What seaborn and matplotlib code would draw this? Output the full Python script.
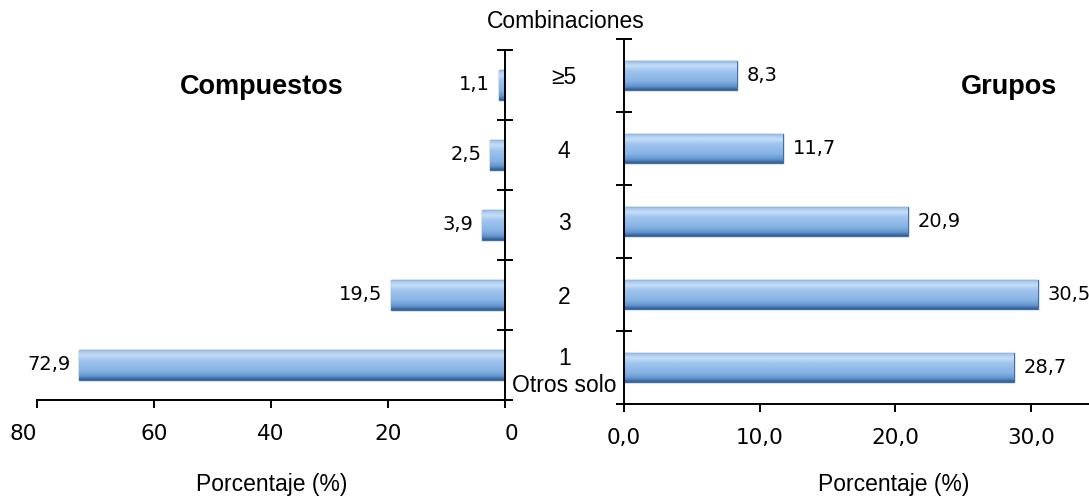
import numpy as np
import pandas as pd
import matplotlib
matplotlib.use("Agg")
import matplotlib.pyplot as plt
import seaborn as sns
from matplotlib.colors import LinearSegmentedColormap
from matplotlib.ticker import FuncFormatter

# ---------------- data ----------------
categorias = ["≥5", "4", "3", "2", "1\nOtros solo"]
compuestos = [1.1, 2.5, 3.9, 19.5, 72.9]
grupos = [8.3, 11.7, 20.9, 30.5, 28.7]
ticks_izq = [0, 20, 40, 60, 80]
ticks_der = [0, 10, 20, 30]
titulo_izq = "Compuestos"
titulo_der = "Grupos"
titulo_centro = "Combinaciones"
etiqueta_x = "Porcentaje (%)"

sns.set_style("white")
plt.rcParams["font.family"] = ["Liberation Sans", "DejaVu Sans"]
for k in ("text.color", "axes.labelcolor", "xtick.color", "ytick.color", "axes.edgecolor"):
    plt.rcParams[k] = "black"
NUM_FONT = ["DejaVu Sans"]

W, H = 1089, 497
fig = plt.figure(figsize=(W / 100, H / 100), dpi=100)


def px_axes(x0, y0, x1, y1):
    """axes rect from pixel box (top-left origin)"""
    return [x0 / W, (H - y1) / H, (x1 - x0) / W, (y1 - y0) / H]


ax_l = fig.add_axes(px_axes(37, 50, 505, 400))
ax_r = fig.add_axes(px_axes(624, 39, 1099, 404))

df_l = pd.DataFrame({"cat": categorias, "valor": compuestos})
df_r = pd.DataFrame({"cat": categorias, "valor": grupos})

base = "#8DB6E6"
sns.barplot(data=df_l, x="valor", y="cat", order=categorias, orient="h", ax=ax_l,
            color=base, saturation=1, width=0.44, edgecolor="#3F6FA8", linewidth=1.0)
sns.barplot(data=df_r, x="valor", y="cat", order=categorias, orient="h", ax=ax_r,
            color=base, saturation=1, width=0.41, edgecolor="#3F6FA8", linewidth=1.0)

# bevel-like vertical gradient on each bar
cmap = LinearSegmentedColormap.from_list(
    "bevel", [(0, "#7AA1D0"), (0.08, "#A8CAEE"), (0.2, "#C6DEF7"), (0.36, "#A0C5EE"),
              (0.7, "#86B2E4"), (0.87, "#6596CF"), (1, "#2D5A8F")])
grad = np.linspace(0, 1, 256).reshape(-1, 1)
for ax in (ax_l, ax_r):
    for p in list(ax.patches):
        x0, y0 = p.get_x(), p.get_y()
        w, h = p.get_width(), p.get_height()
        im = ax.imshow(grad, cmap=cmap, aspect="auto", origin="upper",
                       extent=(x0, x0 + w, y0 + h, y0), zorder=p.get_zorder() + 0.1,
                       interpolation="bicubic")
        im.set_clip_path(p)

# ---------------- axes limits ----------------
ax_l.set_xlim(80, 0)
ax_l.set_ylim(4.5, -0.5)
ax_r.set_xlim(0, 35)
ax_r.set_ylim(4.5, -0.5)

bounds = np.arange(-0.5, 5, 1)

# left panel
for s in ("left", "top"):
    ax_l.spines[s].set_visible(False)
for s in ("right", "bottom"):
    ax_l.spines[s].set_color("black")
    ax_l.spines[s].set_linewidth(1.4)
ax_l.yaxis.tick_right()
ax_l.set_yticks(range(len(categorias)))
ax_l.set_yticklabels([])
ax_l.set_yticks(bounds, minor=True)
ax_l.tick_params(axis="y", which="major", length=0)
ax_l.tick_params(axis="y", which="minor", direction="inout", length=11, width=1.4,
                 color="black", right=True, left=False)
ax_l.set_xticks(ticks_izq)
ax_l.set_xticklabels([str(t) for t in ticks_izq], fontfamily=NUM_FONT, fontsize=15.5)
ax_l.tick_params(axis="x", direction="out", length=6, width=1.4, color="black", pad=11,
                 bottom=True)
xl = ax_l.get_xticklabels()
xl[0].set_ha("left")
xl[-1].set_ha("right")
ax_l.set_xlabel("")
ax_l.set_ylabel("")

# right panel
for s in ("right", "top"):
    ax_r.spines[s].set_visible(False)
for s in ("left", "bottom"):
    ax_r.spines[s].set_color("black")
    ax_r.spines[s].set_linewidth(1.4)
ax_r.set_yticks(range(len(categorias)))
ax_r.set_yticklabels(categorias, fontsize=16.5, ha="center", multialignment="center",
                     linespacing=1.25)
ax_r.set_yticks(bounds, minor=True)
ax_r.tick_params(axis="y", which="major", length=0, pad=43)
ax_r.tick_params(axis="y", which="minor", direction="inout", length=11, width=1.4,
                 color="black", left=True)
ax_r.set_xticks(ticks_der)
ax_r.xaxis.set_major_formatter(FuncFormatter(lambda v, p: f"{v:.1f}".replace(".", ",")))
for t in ax_r.get_xticklabels():
    t.set_fontfamily(NUM_FONT)
    t.set_fontsize(15.5)
ax_r.tick_params(axis="x", direction="out", length=6, width=1.4, color="black", pad=11,
                 bottom=True)
ax_r.set_xlabel("")
ax_r.set_ylabel("")

# value labels
fmt = lambda v: f"{v:.1f}".replace(".", ",")
ax_l.bar_label(ax_l.containers[0], labels=[fmt(v) for v in compuestos], padding=6,
               fontsize=14, fontfamily=NUM_FONT)
ax_r.bar_label(ax_r.containers[0], labels=[fmt(v) for v in grupos], padding=7,
               fontsize=14, fontfamily=NUM_FONT)

# titles & labels
fig.text(262 / W, 1 - 87 / H, titulo_izq, fontsize=19.5, fontweight="bold",
         ha="center", va="center")
fig.text(1009 / W, 1 - 87 / H, titulo_der, fontsize=19.5, fontweight="bold",
         ha="center", va="center")
fig.text(566 / W, 1 - 22 / H, titulo_centro, fontsize=16.5, ha="center", va="center")
fig.text(272 / W, 1 - 484 / H, etiqueta_x, fontsize=16.5, ha="center", va="center")
fig.text(894 / W, 1 - 484 / H, etiqueta_x, fontsize=16.5, ha="center", va="center")

fig.savefig("out.png", dpi=100)
